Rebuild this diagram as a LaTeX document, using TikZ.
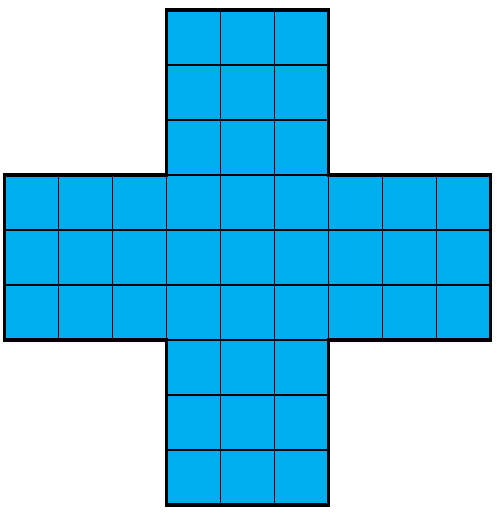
\documentclass[tikz,border=0pt]{standalone}
\definecolor{crossblue}{RGB}{0,174,239}
\tikzset{gridline/.style={line width=0.6pt, black}}
\begin{document}
\begin{tikzpicture}[x=1.08cm, y=-1.1cm]
  \useasboundingbox (-0.086cm, 0.2cm) rectangle (9.914cm, -10.18cm);
  \def\crosspath{(3,0) -- (6,0) -- (6,3) -- (9,3) -- (9,6) -- (6,6) -- (6,9) -- (3,9) -- (3,6) -- (0,6) -- (0,3) -- (3,3) -- cycle}
  \fill[crossblue] \crosspath;
  \begin{scope}
    \clip \crosspath;
    \foreach \k in {1,...,8} {
      \draw[gridline] (\k, 0) -- (\k, 9);
      \draw[gridline] (0, \k) -- (9, \k);
    }
  \end{scope}
  \draw[line width=1.8pt, line join=miter] \crosspath;
\end{tikzpicture}
\end{document}
